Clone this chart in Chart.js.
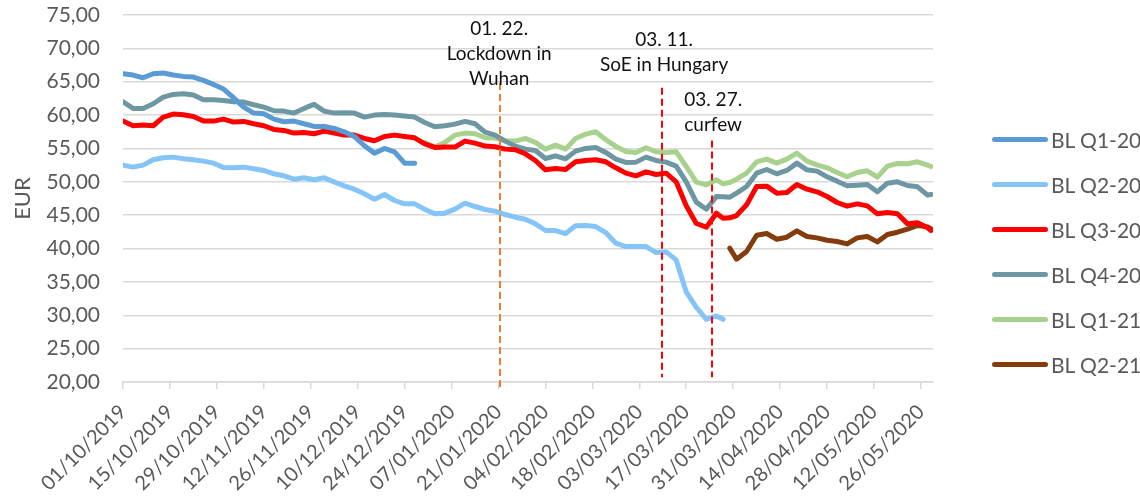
<!DOCTYPE html>
<html>
<head>
<meta charset="utf-8">
<script src="https://cdn.jsdelivr.net/npm/chart.js@4/dist/chart.umd.min.js"></script>
<style>
  html, body { margin: 0; padding: 0; background: #fff; }
  #wrap { position: relative; width: 1140px; height: 498px; }
  #legend { position: absolute; left: 992px; top: 0; font-family: Lato, sans-serif; font-size: 21px; color: #595959; }
  .item { position: absolute; left: 0; height: 24px; display: flex; align-items: center; white-space: nowrap; }
  .swatch { width: 56px; height: 5px; border-radius: 3px; margin-right: 3px; }
</style>
</head>
<body>
<div id="wrap">
  <canvas id="chart" width="1140" height="498"></canvas>
  <div id="legend"></div>
</div>
<script>
// sample dates, as days after 01/10/2019
const days = [0, 3, 6, 9, 12, 15, 18, 21, 24, 27, 30, 33, 36, 39, 42, 45, 48, 51, 54, 57,
  60, 63, 66, 69, 72, 75, 78, 81, 84, 87, 90, 93, 96, 99, 102, 105, 108, 111, 114, 117,
  120, 123, 126, 129, 132, 135, 138, 141, 144, 147, 150, 153, 156, 159, 162, 165, 168, 171, 174, 177,
  179, 181, 183, 186, 189, 192, 195, 198, 201, 204, 207, 210, 213, 216, 219, 222, 225, 228, 231, 234,
  237, 240, 241];

const tickLabels = ['01/10/2019', '15/10/2019', '29/10/2019', '12/11/2019', '26/11/2019', '10/12/2019',
  '24/12/2019', '07/01/2020', '21/01/2020', '04/02/2020', '18/02/2020', '03/03/2020', '17/03/2020',
  '31/03/2020', '14/04/2020', '28/04/2020', '12/05/2020', '26/05/2020'];

// each series starts at its first day in `days`
const q1_20 = [66.2, 66.0, 65.6, 66.2, 66.3, 66.0, 65.8, 65.7, 65.2, 64.6, 63.9, 62.6, 61.2, 60.3, 60.2,
  59.4, 59.0, 59.1, 58.7, 58.3, 58.3, 58.0, 57.5, 56.8, 55.4, 54.3, 55.0, 54.5, 52.8, 52.8];
const q2_20 = [52.5, 52.2, 52.5, 53.3, 53.6, 53.7, 53.45, 53.3, 53.1, 52.8, 52.15, 52.1, 52.2, 51.95, 51.7,
  51.2, 50.9, 50.4, 50.6, 50.3, 50.6, 50.0, 49.4, 48.9, 48.2, 47.4, 48.1, 47.2, 46.7, 46.7,
  45.9, 45.2, 45.3, 45.9, 46.8, 46.3, 45.85, 45.6, 45.1, 44.7, 44.4, 43.7, 42.7, 42.7, 42.25,
  43.4, 43.45, 43.3, 42.4, 40.8, 40.3, 40.3, 40.3, 39.4, 39.5, 38.3, 33.5, 31.2, 29.4, 29.9, 29.4];
const q3_20 = [59.1, 58.4, 58.5, 58.4, 59.7, 60.15, 60.05, 59.8, 59.1, 59.1, 59.4, 58.95, 59.05, 58.7, 58.4,
  57.85, 57.7, 57.3, 57.4, 57.2, 57.6, 57.3, 57.0, 57.0, 56.5, 56.15, 56.8, 57.0, 56.8, 56.6,
  55.7, 55.15, 55.2, 55.2, 56.1, 55.8, 55.35, 55.25, 54.9, 54.8, 54.2, 53.2, 51.8, 52.0, 51.85,
  53.0, 53.2, 53.3, 53.0, 52.1, 51.3, 50.9, 51.5, 51.1, 51.3, 50.0, 46.4, 43.75, 43.2, 45.3,
  44.55, 44.6, 44.95, 46.55, 49.3, 49.35, 48.3, 48.4, 49.6, 48.9, 48.5, 47.8, 46.9, 46.35, 46.7,
  46.4, 45.2, 45.4, 45.2, 43.7, 43.85, 43.1, 42.7];
const q4_20 = [62.0, 61.0, 61.0, 61.7, 62.7, 63.1, 63.2, 63.0, 62.3, 62.3, 62.2, 62.0, 61.95, 61.55, 61.2,
  60.65, 60.6, 60.3, 61.0, 61.6, 60.6, 60.3, 60.35, 60.3, 59.7, 60.0, 60.1, 60.0, 59.85, 59.7,
  58.9, 58.25, 58.4, 58.65, 59.05, 58.7, 57.45, 57.0, 56.1, 55.35, 54.9, 54.7, 53.5, 53.9, 53.45,
  54.6, 55.0, 55.15, 54.4, 53.4, 52.9, 52.95, 53.7, 53.2, 52.95, 52.35, 50.0, 46.95, 45.9, 47.8,
  47.75, 47.7, 48.3, 49.3, 51.3, 51.85, 51.2, 51.7, 52.8, 51.8, 51.6, 50.75, 50.1, 49.4, 49.5,
  49.6, 48.5, 49.8, 50.0, 49.45, 49.25, 48.0, 48.1];
const q1_21 = [55.9, 55.2, 55.9, 57.0, 57.3, 57.2, 56.6, 56.55, 56.15, 56.1, 56.5, 55.9, 54.9, 55.5, 54.9,
  56.5, 57.15, 57.5, 56.3, 55.3, 54.55, 54.4, 55.1, 54.5, 54.4, 54.5, 52.3, 49.95, 49.55, 50.3,
  49.7, 49.9, 50.4, 51.3, 53.0, 53.4, 52.8, 53.4, 54.3, 53.1, 52.55, 52.1, 51.4, 50.75, 51.4,
  51.65, 50.7, 52.35, 52.75, 52.7, 53.0, 52.5, 52.3];
const q2_21 = [40.05, 38.4, 39.55, 42.0, 42.25, 41.4, 41.7, 42.65, 41.8, 41.6, 41.25, 41.05, 40.7, 41.6,
  41.8, 41.0, 42.1, 42.45, 42.9, 43.45, 43.25, 42.95];

const seriesNames = ['BL Q1-20', 'BL Q2-20', 'BL Q3-20', 'BL Q4-20', 'BL Q1-21', 'BL Q2-21'];
const seriesValues = [q1_20, q2_20, q3_20, q4_20, q1_21, q2_21];
const seriesStart = [0, 0, 0, 0, 90, 181];
const seriesColors = ['#5b9bd5', '#85c4f8', '#ff0000', '#6d97a3', '#a9d18e', '#843c0c'];

// event markers
const eventDays = [112.3, 160.9, 175.8];
const eventTop = [64.8, 64.1, 56.2];
const eventBottom = [18.8, 20.7, 20.7];
const eventColors = ['#ed7d31', '#ff0000', '#ff0000'];
const notes = [
  { day: 112.2, value: 72.95, align: 'center', lines: ['01. 22.', 'Lockdown in', 'Wuhan'] },
  { day: 161.4, value: 71.3, align: 'center', lines: ['03. 11.', 'SoE in Hungary'] },
  { day: 167.4, value: 62.3, align: 'left', lines: ['03. 27.', 'curfew'] }
];

function toPoints(first, values) {
  const i0 = days.indexOf(first);
  return values.map((v, i) => ({ x: days[i0 + i], y: v }));
}

const eventMarkers = {
  id: 'eventMarkers',
  afterDatasetsDraw(chart) {
    const { ctx, scales: { x, y } } = chart;
    ctx.save();
    eventDays.forEach((d, i) => {
      const px = Math.round(x.getPixelForValue(d));
      ctx.beginPath();
      ctx.setLineDash([7, 4]);
      ctx.lineWidth = 2;
      ctx.strokeStyle = eventColors[i];
      ctx.moveTo(px, y.getPixelForValue(eventTop[i]));
      ctx.lineTo(px, y.getPixelForValue(eventBottom[i]));
      ctx.stroke();
    });
    ctx.setLineDash([]);
    ctx.fillStyle = '#111';
    ctx.font = '19px Lato';
    ctx.textBaseline = 'middle';
    notes.forEach(n => {
      ctx.textAlign = n.align;
      const px = x.getPixelForValue(n.day);
      const py = y.getPixelForValue(n.value);
      n.lines.forEach((t, k) => ctx.fillText(t, px, py + k * 25));
    });
    ctx.restore();
  }
};

const datasets = seriesNames.map((name, i) => ({
  label: name,
  data: toPoints(seriesStart[i], seriesValues[i]),
  borderColor: seriesColors[i],
  backgroundColor: seriesColors[i]
}));

new Chart(document.getElementById('chart'), {
  type: 'line',
  data: { datasets },
  options: {
    responsive: false,
    animation: false,
    layout: { padding: { top: 15, right: 207, bottom: 0, left: 0 } },
    plugins: { legend: { display: false }, tooltip: { enabled: false } },
    elements: {
      point: { radius: 0 },
      line: { borderWidth: 5, borderCapStyle: 'round', borderJoinStyle: 'round', tension: 0 }
    },
    scales: {
      x: {
        type: 'linear',
        min: 0,
        max: 241.6,
        afterFit: s => { s.height = 116; },
        ticks: {
          stepSize: 14,
          includeBounds: false,
          autoSkip: false,
          minRotation: 45,
          maxRotation: 45,
          padding: 11,
          color: '#595959',
          font: { family: 'Lato', size: 20 },
          callback: v => tickLabels[Math.round(v / 14)]
        },
        grid: { drawOnChartArea: false, color: '#d9d9d9', lineWidth: 1.5, tickLength: 7 },
        border: { color: '#d9d9d9', width: 1.5 }
      },
      y: {
        min: 20,
        max: 75,
        afterFit: s => { s.width = 123; },
        ticks: {
          stepSize: 5,
          padding: 0,
          color: '#595959',
          font: { family: 'Lato', size: 21 },
          callback: v => v.toFixed(2).replace('.', ',')
        },
        // invisible tick marks keep the labels 23px off the plot without padding the top
        grid: { color: '#d9d9d9', lineWidth: 1.5, drawTicks: true, tickLength: 23, tickColor: 'rgba(0,0,0,0)' },
        border: { display: false },
        title: { display: true, text: 'EUR', color: '#595959', font: { family: 'Lato', size: 22 }, padding: { top: 10 } }
      }
    }
  },
  plugins: [eventMarkers]
});

// legend on the right, outside the canvas
const legend = document.getElementById('legend');
seriesNames.forEach((name, i) => {
  const row = document.createElement('div');
  row.className = 'item';
  row.style.top = (127 + i * 45) + 'px';
  row.innerHTML = '<span class="swatch" style="background:' + seriesColors[i] + '"></span>' + name;
  legend.appendChild(row);
});
</script>
</body>
</html>
